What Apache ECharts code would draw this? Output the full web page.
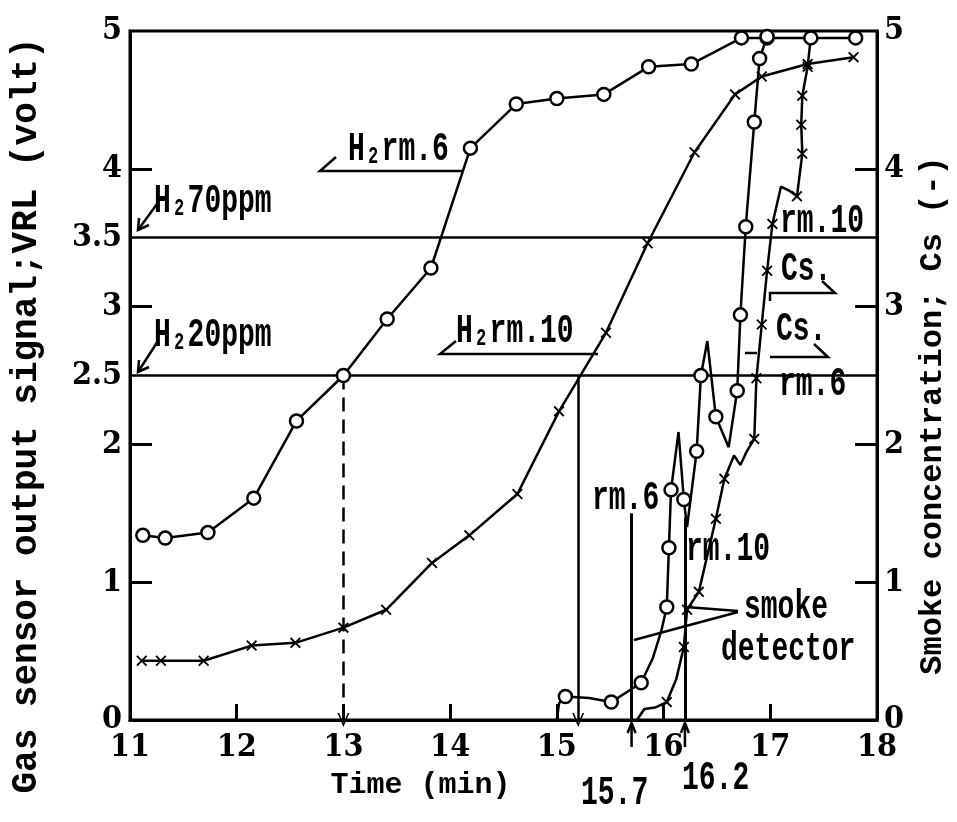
<!DOCTYPE html>
<html><head><meta charset="utf-8">
<script src="https://cdn.jsdelivr.net/npm/echarts@6/dist/echarts.min.js"></script>
<style>html,body{margin:0;padding:0;background:#fff}#c{width:957px;height:822px}</style>
</head><body><div id="c"></div>
<script>
// ---------------- data ----------------
const xTickLabels = [11, 12, 13, 14, 15, 16, 17, 18];
const leftTickLabels = [0, 1, 2, 2.5, 3, 3.5, 4, 5];
const rightTickLabels = [0, 1, 2, 3, 4, 5];

// H2 sensor output, room 6 (circles, left axis)
const h2Rm6Time = [11.12, 11.33, 11.73, 12.16, 12.56, 13.0, 13.41, 13.82, 14.19, 14.62, 15.0, 15.44, 15.86, 16.26, 16.73, 16.97, 17.38, 17.8];
const h2Rm6Volt = [1.34, 1.32, 1.36, 1.61, 2.17, 2.5, 2.91, 3.28, 4.15, 4.47, 4.51, 4.54, 4.74, 4.76, 4.95, 4.95, 4.95, 4.95];

// H2 sensor output, room 10 (crosses, left axis)
const h2Rm10Time = [11.11, 11.29, 11.69, 12.14, 12.55, 13.0, 13.4, 13.83, 14.18, 14.63, 15.02, 15.46, 15.85, 16.29, 16.67, 16.92, 17.35, 17.78];
const h2Rm10Volt = [0.43, 0.43, 0.43, 0.54, 0.56, 0.67, 0.8, 1.14, 1.34, 1.64, 2.24, 2.81, 3.46, 4.12, 4.54, 4.67, 4.76, 4.81];

// Smoke concentration Cs, room 6 (circles, right axis): measured points
const csRm6Time = [15.08, 15.51, 15.79, 16.03, 16.05, 16.07, 16.19, 16.31, 16.35, 16.49, 16.69, 16.72, 16.77, 16.85, 16.9, 16.97];
const csRm6Conc = [0.17, 0.13, 0.27, 0.82, 1.25, 1.67, 1.6, 1.95, 2.5, 2.2, 2.39, 2.94, 3.58, 4.34, 4.8, 4.96];
// pen trace of the same record
const csRm6TraceTime = [15.0, 15.02, 15.08, 15.3, 15.51, 15.65, 15.79, 15.9, 15.98, 16.03, 16.05, 16.07, 16.14, 16.19, 16.22, 16.31, 16.35, 16.41, 16.49, 16.61, 16.69, 16.72, 16.77, 16.85, 16.9, 16.97];
const csRm6TraceConc = [0.0, 0.12, 0.17, 0.16, 0.13, 0.2, 0.27, 0.45, 0.65, 0.82, 1.25, 1.67, 2.09, 1.6, 1.4, 1.95, 2.5, 2.75, 2.2, 1.98, 2.39, 2.94, 3.58, 4.34, 4.8, 4.96];

// Smoke concentration Cs, room 10 (crosses, right axis): measured points
const csRm10Time = [16.03, 16.19, 16.22, 16.33, 16.49, 16.57, 16.85, 16.87, 16.92, 16.97, 17.02, 17.25, 17.3, 17.29, 17.3, 17.35];
const csRm10Conc = [0.13, 0.53, 0.8, 0.93, 1.46, 1.75, 2.04, 2.48, 2.87, 3.26, 3.6, 3.8, 4.11, 4.32, 4.53, 4.74];
const csRm10TraceTime = [15.75, 15.82, 15.92, 16.03, 16.12, 16.19, 16.22, 16.33, 16.49, 16.57, 16.66, 16.72, 16.78, 16.85, 16.87, 16.92, 16.97, 17.02, 17.1, 17.18, 17.25, 17.3, 17.29, 17.3, 17.35, 17.38];
const csRm10TraceConc = [0.0, 0.08, 0.09, 0.13, 0.3, 0.53, 0.8, 0.93, 1.46, 1.75, 1.92, 1.85, 1.95, 2.04, 2.48, 2.87, 3.26, 3.6, 3.87, 3.84, 3.8, 4.11, 4.32, 4.53, 4.74, 4.96];

// H2 thresholds (volt) and alarm times
const thresholdVolt = [2.5, 3.5];
const h2AlarmTime = [13.0, 15.2];
const h2AlarmVolt = [2.5, 2.5];
const smokeAlarmTime = [15.7, 16.2];
const smokeAlarmTop = [1.5, 1.47];

// ---------------- fonts ----------------
function hasFont(name){
  const c = document.createElement('canvas').getContext('2d');
  const s = 'mmmmmmmmmmlli1.0WQgy';
  return ['monospace','serif','sans-serif'].some(b=>{
    c.font = '40px ' + b; const w0 = c.measureText(s).width;
    c.font = '40px "' + name + '", ' + b; return c.measureText(s).width !== w0;
  });
}
const NARROW = ['DejaVu Serif Condensed','Liberation Sans Narrow','DejaVu Sans Condensed','Liberation Mono'].find(hasFont) || 'monospace';
const MONO = '"Liberation Mono", "DejaVu Sans Mono", monospace';

const zip = (a, b) => a.map((v, i) => [v, b[i]]);
const CROSS = 'path://M0,1.2L1.2,0L5,3.8L8.8,0L10,1.2L6.2,5L10,8.8L8.8,10L5,6.2L1.2,10L0,8.8L3.8,5Z';
const VHEAD = 'path://M0,10L5,0L10,10L8.6,10L5,2.8L1.4,10Z';

const chart = echarts.init(document.getElementById('c'));
const tickLabel = {color:'#000', fontFamily: NARROW, fontWeight:'bold', fontSize: 32};

chart.setOption({
  animation: false,
  backgroundColor: '#fff',
  grid: {left: 130, right: 77, top: 31, bottom: 102, show: true, borderColor: '#000', borderWidth: 3},
  xAxis: {
    type: 'value', min: 11, max: 18, interval: 1,
    axisLine: {lineStyle: {color: '#000', width: 3}},
    axisTick: {inside: true, length: 16, lineStyle: {color: '#000', width: 3}, customValues: xTickLabels.slice(1, -1)},
    axisLabel: Object.assign({margin: 12, customValues: xTickLabels}, tickLabel),
    splitLine: {show: false},
    name: 'Time (min)', nameLocation: 'middle', nameGap: 50, nameMoveOverlap: false,
    nameTextStyle: {color:'#000', fontFamily: MONO, fontWeight:'bold', fontSize: 30, padding: [0, 166, 0, 0], verticalAlign: 'top'}
  },
  yAxis: [{
    type: 'value', min: 0, max: 5, interval: 1, position: 'left',
    axisLine: {lineStyle: {color: '#000', width: 3}},
    axisTick: {inside: true, length: 22, lineStyle: {color: '#000', width: 3}, customValues: [1, 2, 3, 4]},
    axisLabel: Object.assign({margin: 8, customValues: leftTickLabels}, tickLabel),
    splitLine: {show: false},
    name: 'Gas sensor output signal;VRL (volt)', nameLocation: 'middle', nameRotate: 90, nameGap: 85, nameMoveOverlap: false,
    nameTextStyle: {color:'#000', fontFamily: MONO, fontWeight:'bold', fontSize: 36, padding: [0, 80, 0, 0]}
  }, {
    type: 'value', min: 0, max: 5, interval: 1, position: 'right',
    axisLine: {lineStyle: {color: '#000', width: 3}},
    axisTick: {inside: true, length: 22, lineStyle: {color: '#000', width: 3}, customValues: [1, 2, 3, 4]},
    axisLabel: Object.assign({margin: 7, customValues: rightTickLabels}, tickLabel),
    splitLine: {show: false},
    name: 'Smoke concentration; Cs (-)', nameLocation: 'middle', nameRotate: 90, nameGap: 40, nameMoveOverlap: false,
    nameTextStyle: {color:'#000', fontFamily: MONO, fontWeight:'bold', fontSize: 32, padding: [0, 80, 0, 0]}
  }],
  series: [
    {
      name: 'H2 rm.6', type: 'line', yAxisIndex: 0, data: zip(h2Rm6Time, h2Rm6Volt), z: 5,
      symbol: 'circle', symbolSize: 13, showAllSymbol: true,
      lineStyle: {color: '#000', width: 2.5},
      itemStyle: {color: '#fff', borderColor: '#000', borderWidth: 2.5, opacity: 1},
      markLine: {
        silent: true, symbol: 'none', label: {show: false}, animation: false,
        lineStyle: {color: '#000', width: 2.5, type: 'solid'},
        data: thresholdVolt.map(v => ({yAxis: v}))
      }
    },
    {
      name: 'H2 rm.10', type: 'line', yAxisIndex: 0, data: zip(h2Rm10Time, h2Rm10Volt), z: 5,
      symbol: CROSS, symbolSize: 11, showAllSymbol: true,
      lineStyle: {color: '#000', width: 2.5},
      itemStyle: {color: '#000', opacity: 1},
      markLine: {
        silent: true, label: {show: false}, animation: false,
        symbol: ['none', VHEAD], symbolSize: [12, 14],
        data: h2AlarmTime.map((t, i) => [
          {coord: [t, h2AlarmVolt[i]], lineStyle: {color:'#000', width: 2.5, type: i === 0 ? [14, 8] : 'solid'}},
          {coord: [t, 0]}
        ])
      }
    },
    {
      name: 'Cs rm.6 trace', type: 'line', yAxisIndex: 1, data: zip(csRm6TraceTime, csRm6TraceConc), z: 4,
      symbol: 'none', lineStyle: {color: '#000', width: 2.5},
      markLine: {
        silent: true, symbol: 'none', label: {show: false}, animation: false,
        lineStyle: {color: '#000', width: 3, type: 'solid'},
        data: smokeAlarmTime.map((t, i) => [{coord: [t, smokeAlarmTop[i]]}, {coord: [t, 0]}])
      }
    },
    {
      name: 'Cs rm.6', type: 'scatter', yAxisIndex: 1, data: zip(csRm6Time, csRm6Conc), z: 6,
      symbol: 'circle', symbolSize: 13,
      itemStyle: {color: '#fff', borderColor: '#000', borderWidth: 2.5, opacity: 1}
    },
    {
      name: 'Cs rm.10 trace', type: 'line', yAxisIndex: 1, data: zip(csRm10TraceTime, csRm10TraceConc), z: 4,
      symbol: 'none', lineStyle: {color: '#000', width: 2.5}
    },
    {
      name: 'Cs rm.10', type: 'scatter', yAxisIndex: 1, data: zip(csRm10Time, csRm10Conc), z: 6,
      symbol: CROSS, symbolSize: 11, itemStyle: {color: '#000', opacity: 1}
    }
  ]
});

// ---------------- annotations ----------------
const FS = 40, SX = 0.7;
function label(t, x, y, fs, sx){
  return {type: 'text', x: x, y: y, scaleX: sx || SX, z: 20,
    style: {text: t, font: 'bold ' + (fs || FS) + 'px ' + MONO, fill: '#000', textAlign: 'left', textVerticalAlign: 'top'}};
}
function pl(points, w){
  return {type: 'polyline', z: 20, shape: {points: points}, style: {stroke: '#000', lineWidth: w || 2.5, fill: null}};
}
const g = [];
g.push(label('H₂rm.6', 348, 130));
g.push(pl([[463,171],[320,171],[336,157]]));
g.push(label('H₂rm.10', 456, 312));
g.push(pl([[598,354],[440,354],[456,341]]));
g.push(label('H₂70ppm', 154, 182));
g.push(pl([[157,204],[138,230]]));
g.push(pl([[139,218],[138,230],[149,225]]));
g.push(label('H₂20ppm', 154, 316));
g.push(pl([[158,341],[138,372]]));
g.push(pl([[139,360],[138,372],[149,367]]));
g.push(label('rm.10', 780, 202));
g.push(label('Cs.', 781, 250));
g.push(pl([[770,301],[770,293],[835,293],[822,281]]));
g.push(label('Cs.', 776, 310));
g.push(pl([[745,353],[757,353]]));
g.push(pl([[770,357],[828,357],[814,344]]));
g.push(label('rm.6', 779, 365));
g.push(label('rm.6', 592, 479));
g.push(label('rm.10', 686, 530));
g.push(label('smoke', 744, 588));
g.push(label('detector', 721, 630));
g.push(pl([[738,611],[686,607]]));
g.push(pl([[738,612],[634,640]]));
g.push(label('15.7', 581, 774));
g.push(label('16.2', 682, 759));
// small upward arrows under the axis at the smoke-detector alarm times
smokeAlarmTime.forEach(t => {
  const px = chart.convertToPixel({xAxisIndex: 0}, t);
  g.push(pl([[px, 747],[px, 723]], 2.5));
  g.push(pl([[px-4, 733],[px, 723],[px+4, 733]], 2.5));
});
chart.setOption({graphic: g});
</script>
</body></html>
